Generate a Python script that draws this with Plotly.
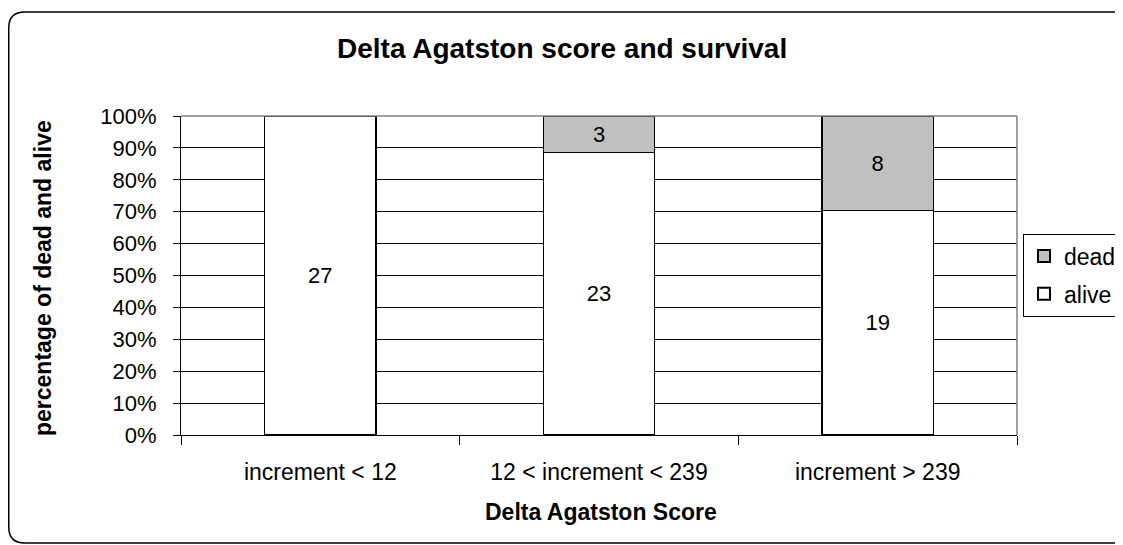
import plotly.graph_objects as go

categories = ["increment < 12", "12 < increment < 239", "increment > 239"]
alive = [27, 23, 19]
dead = [0, 3, 8]
y_ticks = [0, 10, 20, 30, 40, 50, 60, 70, 80, 90, 100]
y_tick_labels = [f"{v}%" for v in y_ticks]

OFF = 8  # page body margin offset
W, H = 1160, 545 - OFF
L, R, T, B = 181 - OFF, 1017 - OFF, 116 - OFF, 435 - OFF
FONT = "Liberation Sans, Arial, sans-serif"
FS = 22

def txt(vals):
    return [str(v) if v else "" for v in vals]

fig = go.Figure()
fig.add_trace(go.Bar(x=categories, y=alive, name="alive", text=txt(alive),
                     legendgroup="a", legendrank=2,
                     marker=dict(color="white", line=dict(color="black", width=1.3)),
                     textposition="inside", insidetextanchor="middle",
                     textfont=dict(size=FS, color="black", family=FONT),
                     hoverinfo="skip"))
fig.add_trace(go.Bar(x=categories, y=dead, name="dead", text=txt(dead),
                     legendgroup="b", legendrank=1,
                     marker=dict(color="#C0C0C0", line=dict(color="black", width=1.3)),
                     textposition="inside", insidetextanchor="middle",
                     textfont=dict(size=FS, color="black", family=FONT),
                     hoverinfo="skip"))

def px(x):
    return (x - OFF - L) / (R - L)

def py(y):
    return (B - (y - OFF)) / (B - T)

# rounded outer border (reference pixel coords)
x0, y0, x1, y1, r = 8.75, 12, 1150, 543, 16
path = (f"M {px(x0+r)},{py(y0)} L {px(x1-r)},{py(y0)} "
        f"Q {px(x1)},{py(y0)} {px(x1)},{py(y0+r)} "
        f"L {px(x1)},{py(y1-r)} "
        f"Q {px(x1)},{py(y1)} {px(x1-r)},{py(y1)} "
        f"L {px(x0+r)},{py(y1)} "
        f"Q {px(x0)},{py(y1)} {px(x0)},{py(y1-r)} "
        f"L {px(x0)},{py(y0+r)} "
        f"Q {px(x0)},{py(y0)} {px(x0+r)},{py(y0)} Z")

fig.update_layout(
    width=W, height=H,
    margin=dict(l=L, r=W - R, t=T, b=H - B, pad=0),
    paper_bgcolor="white", plot_bgcolor="white",
    barmode="stack", barnorm="percent", bargap=0.6,
    font=dict(family=FONT, size=FS, color="black"),
    showlegend=True,
    legend=dict(traceorder="grouped", x=px(1023), xanchor="left",
                y=py(275), yanchor="middle",
                bordercolor="black", borderwidth=1, bgcolor="white",
                font=dict(size=23, family=FONT, color="black"),
                itemsizing="constant", tracegroupgap=5),
    xaxis=dict(tickson="boundaries", ticks="outside", ticklen=9, tickcolor="black",
               showline=True, linecolor="black", linewidth=1,
               showgrid=False, tickfont=dict(size=23, family=FONT),
               ticklabelstandoff=16, automargin=False),
    yaxis=dict(range=[0, 100], tickvals=y_ticks, ticktext=y_tick_labels,
               ticks="outside", ticklen=7, tickcolor="black",
               showline=True, linecolor="black", linewidth=1,
               showgrid=True, gridcolor="black", gridwidth=1,
               tickfont=dict(size=FS, family=FONT),
               ticklabelstandoff=12, automargin=False),
    annotations=[
        dict(text="<b>Delta Agatston score and survival</b>", xref="paper", yref="paper",
             x=px(561.5), y=py(49), xanchor="center", yanchor="middle", showarrow=False,
             font=dict(size=28, family=FONT, color="black")),
        dict(text="<b>Delta Agatston Score</b>", xref="paper", yref="paper",
             x=px(601), y=py(512), xanchor="center", yanchor="middle", showarrow=False,
             font=dict(size=23, family=FONT, color="black")),
        dict(text="<b>percentage of dead and alive</b>", xref="paper", yref="paper",
             x=px(43), y=py(278), xanchor="center", yanchor="middle", showarrow=False,
             textangle=-90, font=dict(size=23, family=FONT, color="black")),
    ],
    shapes=[
        dict(type="line", xref="paper", yref="paper", x0=1, x1=1, y0=0, y1=1,
             line=dict(color="#808080", width=1.5)),
        dict(type="line", xref="paper", yref="paper", x0=0, x1=1, y0=1, y1=1,
             line=dict(color="#808080", width=1.5)),
        dict(type="path", xref="paper", yref="paper", path=path,
             line=dict(color="black", width=1.5), layer="above"),
    ],
)

fig.write_html("out.html")
